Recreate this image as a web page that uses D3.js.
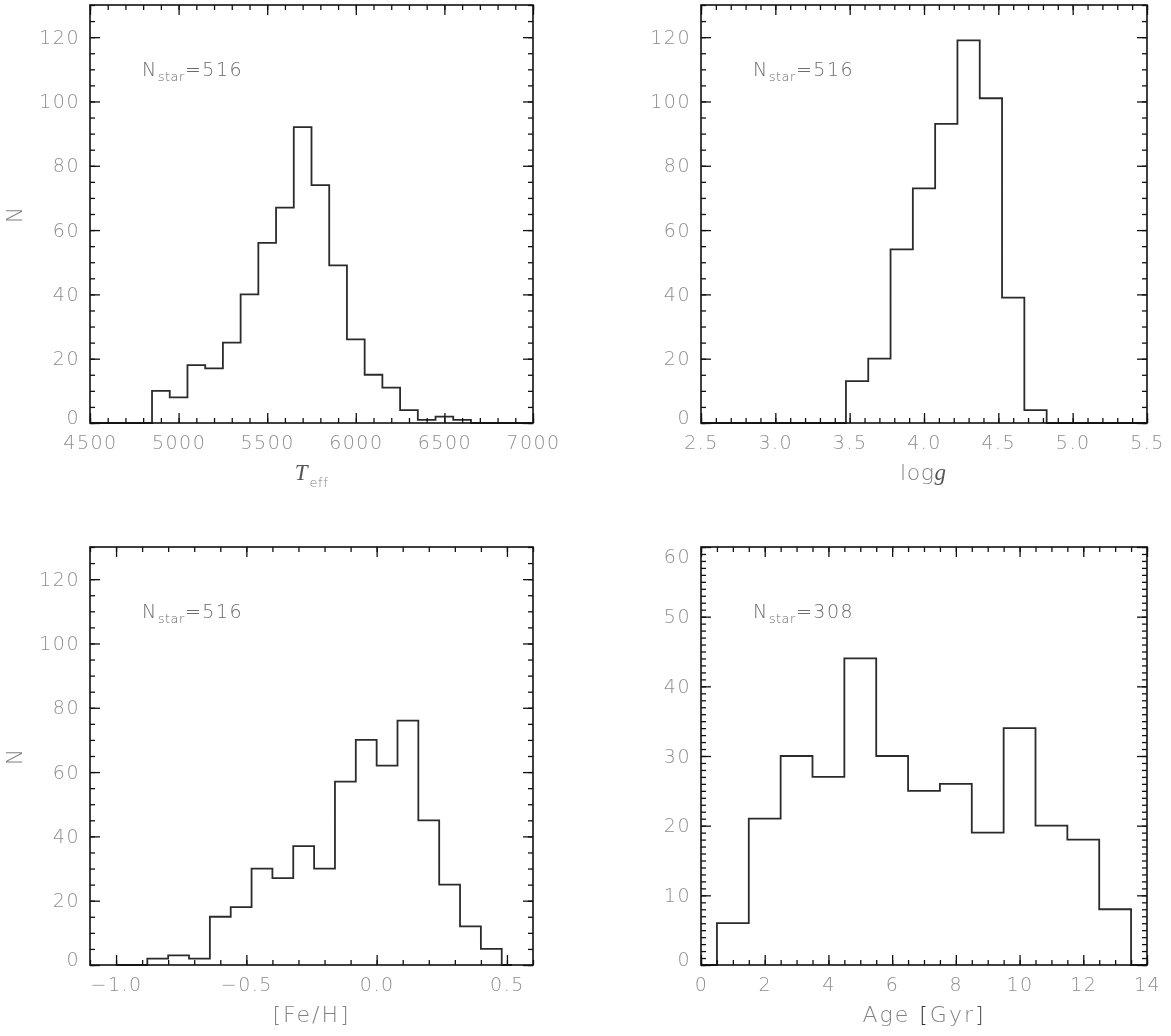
<!DOCTYPE html>
<html lang="en">
<head>
    <meta charset="UTF-8">
    <title>Stellar parameter histograms</title>
    <style>
        body {
            margin: 0;
            padding: 0;
            background-color: #ffffff;
            overflow: hidden;
        }
        svg {
            will-change: transform;
        }
        .tick text {
            font-family: "DejaVu Sans", sans-serif;
            font-weight: 200;
            font-size: 19px;
            fill: #8e8e8e;
            letter-spacing: 1.5px;
        }
        .tick line {
            stroke: #111;
            stroke-width: 1.3px;
        }
        .domain {
            display: none;
        }
        .frame {
            fill: none;
            stroke: #111;
            stroke-width: 1.6px;
        }
        .hist {
            fill: none;
            stroke: #2b2b2b;
            stroke-width: 1.8px;
        }
        .title {
            font-family: "DejaVu Sans", sans-serif;
            font-weight: 200;
            font-size: 22px;
            fill: #828282;
            letter-spacing: 2px;
        }
        .note {
            font-family: "DejaVu Sans", sans-serif;
            font-weight: 200;
            font-size: 19px;
            fill: #6c6c6c;
            letter-spacing: 1.5px;
        }
    </style>
</head>
<body>
    <div id="chart"></div>

    <script src="https://d3js.org/d3.v7.min.js"></script>
    <script>
        // histogram bin edges and counts
        const teffEdges = [4850, 4950, 5050, 5150, 5250, 5350, 5450, 5550, 5650, 5750,
                           5850, 5950, 6050, 6150, 6250, 6350, 6450, 6550, 6650];
        const teffCounts = [10, 8, 18, 17, 25, 40, 56, 67, 92, 74, 49, 26, 15, 11, 4, 1, 2, 1];

        const loggEdges = [3.475, 3.625, 3.775, 3.925, 4.075, 4.225, 4.375, 4.525, 4.675, 4.825];
        const loggCounts = [13, 20, 54, 73, 93, 119, 101, 39, 4];

        const fehEdges = [-0.88, -0.80, -0.72, -0.64, -0.56, -0.48, -0.40, -0.32, -0.24, -0.16,
                          -0.08, 0.00, 0.08, 0.16, 0.24, 0.32, 0.40, 0.48];
        const fehCounts = [2, 3, 2, 15, 18, 30, 27, 37, 30, 57, 70, 62, 76, 45, 25, 12, 5];

        const ageEdges = [0.5, 1.5, 2.5, 3.5, 4.5, 5.5, 6.5, 7.5, 8.5, 9.5, 10.5, 11.5, 12.5, 13.5];
        const ageCounts = [6, 21, 30, 27, 44, 30, 25, 26, 19, 34, 20, 18, 8];

        // tick labels
        const teffTicks = [4500, 5000, 5500, 6000, 6500, 7000];
        const loggTicks = [2.5, 3.0, 3.5, 4.0, 4.5, 5.0, 5.5];
        const fehTicks = [-1.0, -0.5, 0.0, 0.5];
        const ageTicks = [0, 2, 4, 6, 8, 10, 12, 14];
        const countTicks = [0, 20, 40, 60, 80, 100, 120];
        const ageCountTicks = [0, 10, 20, 30, 40, 50, 60];

        const nStar = [516, 516, 516, 308];

        const width = 1171, height = 1036;
        const svg = d3.select("#chart").append("svg")
            .attr("width", width)
            .attr("height", height);

        const cols = [[90, 533], [701, 1147]];
        const rows = [[5, 423], [547, 965]];

        const panels = [
            { col: 0, row: 0, xDom: [4500, 7000], yDom: [0, 130], edges: teffEdges, counts: teffCounts,
              span: [4500, 7000], xTicks: teffTicks, xMinor: 100, yTicks: countTicks, yMinor: 5,
              fmt: d3.format("d"), n: nStar[0], yTitle: true, xTitle: "teff" },
            { col: 1, row: 0, xDom: [2.5, 5.5], yDom: [0, 130], edges: loggEdges, counts: loggCounts,
              span: [2.5, 5.5], xTicks: loggTicks, xMinor: 0.1, yTicks: countTicks, yMinor: 5,
              fmt: d3.format(".1f"), n: nStar[1], yTitle: false, xTitle: "logg" },
            { col: 0, row: 1, xDom: [-1.1, 0.6], yDom: [0, 130], edges: fehEdges, counts: fehCounts,
              span: [-1.0, 0.52], xTicks: fehTicks, xMinor: 0.1, yTicks: countTicks, yMinor: 5,
              fmt: d3.format(".1f"), n: nStar[2], yTitle: true, xTitle: "feh" },
            { col: 1, row: 1, xDom: [0, 14], yDom: [0, 60], edges: ageEdges, counts: ageCounts,
              span: [0, 14], xTicks: ageTicks, xMinor: 0.5, yTicks: ageCountTicks, yMinor: 1,
              fmt: d3.format("d"), n: nStar[3], yTitle: false, xTitle: "age" }
        ];

        function minorTicks(dom, step) {
            const lo = Math.ceil(dom[0] / step - 1e-6), hi = Math.floor(dom[1] / step + 1e-6);
            return d3.range(lo, hi + 1).map(k => +(k * step).toFixed(4));
        }

        panels.forEach(p => {
            const [x0, x1] = cols[p.col];
            const [y0, y1] = rows[p.row];
            const x = d3.scaleLinear().domain(p.xDom).range([x0, x1]);
            const y = d3.scaleLinear().domain(p.yDom).range([y1, y0]);
            const g = svg.append("g");

            // step outline of the histogram
            const pts = [[p.span[0], 0], [p.edges[0], 0]];
            p.counts.forEach((c, i) => {
                pts.push([p.edges[i], c]);
                pts.push([p.edges[i + 1], c]);
            });
            pts.push([p.edges[p.edges.length - 1], 0]);
            pts.push([p.span[1], 0]);
            g.append("path")
                .attr("class", "hist")
                .attr("d", d3.line().x(d => x(d[0])).y(d => y(d[1]))(pts));

            const xm = minorTicks(p.xDom, p.xMinor);
            const ym = minorTicks(p.yDom, p.yMinor);

            // minor ticks on all four sides, pointing in
            g.append("g").attr("transform", `translate(0,${y1})`)
                .call(d3.axisBottom(x).tickValues(xm).tickSize(-5).tickFormat(""));
            g.append("g").attr("transform", `translate(0,${y0})`)
                .call(d3.axisTop(x).tickValues(xm).tickSize(-5).tickFormat(""));
            g.append("g").attr("transform", `translate(${x0},0)`)
                .call(d3.axisLeft(y).tickValues(ym).tickSize(-5).tickFormat(""));
            g.append("g").attr("transform", `translate(${x1},0)`)
                .call(d3.axisRight(y).tickValues(ym).tickSize(-5).tickFormat(""));

            // major ticks with labels
            const fmtX = d => p.fmt(d).replace("-", "\u2212");
            g.append("g").attr("transform", `translate(0,${y1})`)
                .call(d3.axisBottom(x).tickValues(p.xTicks).tickSize(-10).tickPadding(13).tickFormat(fmtX));
            g.append("g").attr("transform", `translate(0,${y0})`)
                .call(d3.axisTop(x).tickValues(p.xTicks).tickSize(-10).tickFormat(""));
            const yl = g.append("g").attr("transform", `translate(${x0},0)`)
                .call(d3.axisLeft(y).tickValues(p.yTicks).tickSize(-10).tickPadding(10).tickFormat(d3.format("d")));
            g.append("g").attr("transform", `translate(${x1},0)`)
                .call(d3.axisRight(y).tickValues(p.yTicks).tickSize(-10).tickFormat(""));

            // keep the end labels inside the frame height
            yl.selectAll(".tick text")
                .attr("y", d => d === p.yDom[0] ? -6 : (d === p.yDom[1] ? 9 : 0));

            g.append("rect")
                .attr("class", "frame")
                .attr("x", x0).attr("y", y0)
                .attr("width", x1 - x0).attr("height", y1 - y0);

            // N_star annotation
            const note = g.append("text").attr("class", "note")
                .attr("x", x0 + 52).attr("y", y0 + 71);
            note.append("tspan").text("N");
            note.append("tspan").attr("font-size", 13).attr("letter-spacing", 0.5).attr("dy", 5).text("star");
            note.append("tspan").attr("dy", -5).text("=" + p.n);

            if (p.yTitle) {
                g.append("text").attr("class", "title")
                    .attr("font-size", 19)
                    .attr("transform", `translate(22,${(y0 + y1) / 2}) rotate(-90)`)
                    .attr("text-anchor", "middle")
                    .text("N");
            }

            const xc = (x0 + x1) / 2;
            const t = g.append("text").attr("class", "title")
                .attr("x", xc).attr("y", y1 + 57)
                .attr("text-anchor", "middle");
            if (p.xTitle === "teff") {
                t.append("tspan").attr("font-family", "Liberation Serif, serif").attr("font-weight", 400)
                    .attr("font-style", "italic").attr("font-size", 23).attr("fill", "#555").text("T");
                t.append("tspan").attr("font-size", 13).attr("letter-spacing", 0.5).attr("dy", 7).text("eff");
            } else if (p.xTitle === "logg") {
                t.append("tspan").attr("letter-spacing", 0.5).text("log");
                t.append("tspan").attr("font-family", "Liberation Serif, serif").attr("font-weight", 400)
                    .attr("font-style", "italic").attr("font-size", 23).attr("fill", "#555").text("g");
            } else if (p.xTitle === "feh") {
                t.text("[Fe/H]");
            } else {
                t.append("tspan").text("Age ");
                t.append("tspan").attr("fill", "#333").text("[");
                t.append("tspan").text("Gyr");
                t.append("tspan").attr("fill", "#555").text("]");
            }
        });
    </script>
</body>
</html>
